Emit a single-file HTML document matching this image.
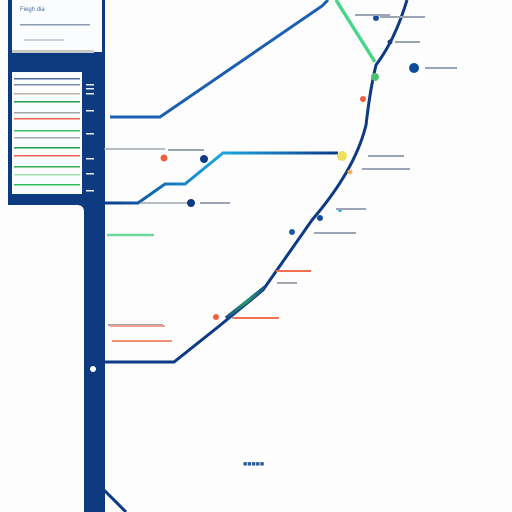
<!DOCTYPE html>
<html><head><meta charset="utf-8"><style>
html,body{margin:0;padding:0;background:#fdfdfe;width:512px;height:512px;overflow:hidden}
svg{display:block;font-family:"Liberation Sans",sans-serif}
</style></head><body>
<svg id="map" width="512" height="512" viewBox="0 0 512 512">
<rect width="512" height="512" fill="#fdfdfe"/>
<!-- left blue frame -->
<path d="M8 0 H105 V512 H84 V212 Q84 205 77 205 H8 Z" fill="#0e3a80"/>
<rect x="0" y="0" width="8" height="54" fill="#fdfdfe"/>
<rect x="0" y="64" width="8" height="12" fill="#fdfdfe"/>
<rect x="12" y="0" width="90" height="52" fill="#fbfcfd"/>
<rect x="12" y="50" width="82" height="3" fill="#c8c8c8"/>
<text x="20" y="11" font-size="6" fill="#4a6fa0">Fiegh dia</text>
<rect x="20" y="24" width="70" height="1.5" fill="#8a9ab0"/>
<rect x="24" y="39" width="40" height="2" fill="#c8d0dc"/>
<rect x="12" y="72" width="70" height="122" fill="#fbfcfd"/>
<g id="legend"></g>
<g id="ticks"></g>
<!-- lines -->
<path d="M110 117 H160 L322 6 L328 0" stroke="#1b5fb0" stroke-width="3" fill="none"/>
<path d="M336 0 L375 62" stroke="#4cd48a" stroke-width="3.5" fill="none"/>
<defs><linearGradient id="cy" x1="0" x2="1"><stop offset="0" stop-color="#0d3a8a"/><stop offset="0.5" stop-color="#1aa8e0"/><stop offset="1" stop-color="#0d3a8a"/></linearGradient>
<linearGradient id="tg" x1="0" y1="1" x2="1" y2="0"><stop offset="0" stop-color="#1a4a8a"/><stop offset="0.5" stop-color="#2a9a6a"/><stop offset="1" stop-color="#1a4a8a"/></linearGradient></defs>
<path d="M104 203 H138 L165 184 H185 L223 153 H338" stroke="url(#cy)" stroke-width="3" fill="none"/>
<path d="M407 0 Q395 40 376 65 Q370 90 366 125 Q355 170 312 220 L263 290 L218 327 L174 362 H104" stroke="#0d3a84" stroke-width="3" fill="none"/>
<path d="M265 287 L226 318" stroke="url(#tg)" stroke-width="3.5" fill="none"/>
<path d="M104 490 L126 512" stroke="#0d3a84" stroke-width="3" fill="none"/>
<path d="M104 149 H165" stroke="#a0a8b0" stroke-width="1.5"/>
<path d="M140 203 H190" stroke="#a0a8b0" stroke-width="1.5"/>
<path d="M107 235 H154" stroke="#6fd8a0" stroke-width="2.5"/>
<g id="stations"></g>
<text x="243" y="466" font-size="7" fill="#2a5a9a" font-weight="bold">■■■■■</text>
</svg>
<script>
const stationX=[375,414,342,363,164,204,191,292,320,350,216,93,376,390,340];
const stationY=[77,68,156,99,158,159,203,232,218,172,317,369,18,42,210];
const stationColor=["#4cc070","#0d4a9a","#f0e060","#f06040","#f06040","#0d3a84","#0d3a84","#1a5a9a","#1a4a9a","#f0b060","#f06040","#ffffff","#1a4a9a","#1a3a7a","#30b0e0"];
const stationR=[4,5,5,3,3.5,4,4,3,3,2.5,3,3,3,2.5,2];
const labelX=[380,425,368,0,168,0,200,0,314,362,232,108,355,395,336];
const labelY=[17,68,156,0,150,0,203,0,233,169,318,325,15,42,209];
const labelW=[45,32,36,0,36,0,30,0,42,48,46,55,35,25,30];
const NS="http://www.w3.org/2000/svg";
const st=document.getElementById('stations');
for(let i=0;i<stationX.length;i++){
 const c=document.createElementNS(NS,'circle');
 c.setAttribute('cx',stationX[i]);c.setAttribute('cy',stationY[i]);c.setAttribute('r',stationR[i]);c.setAttribute('fill',stationColor[i]);
 
 
 st.appendChild(c);
 if(labelW[i]>0){
  const r=document.createElementNS(NS,'rect');
  r.setAttribute('x',labelX[i]);r.setAttribute('y',labelY[i]-1);r.setAttribute('width',labelW[i]);r.setAttribute('height',2);r.setAttribute('fill','#9aa4b4');
  
  
  st.appendChild(r);
 }
}
const extraX=[234,276,277,110,112];
const extraY=[318,271,283,326,341];
const extraW=[45,35,20,55,60];
const extraC=["#f07050","#f07050","#a0a8b4","#f0a090","#f09070"];
for(let i=0;i<extraX.length;i++){
 const r=document.createElementNS(NS,'rect');
 r.setAttribute('x',extraX[i]);r.setAttribute('y',extraY[i]-1);r.setAttribute('width',extraW[i]);r.setAttribute('height',2);r.setAttribute('fill',extraC[i]);
 
 
 st.appendChild(r);
}
const legY=[79,85,94,102,113,119,131,138,148,156,167,175,185];
const legC=["#5070a0","#8090b0","#c0b0a0","#20a050","#a0a8b0","#f06050","#40c060","#a0a8b0","#20a050","#f06050","#30b050","#a0e0b0","#30c060"];
const lg=document.getElementById('legend');
for(let i=0;i<legY.length;i++){
 const r=document.createElementNS(NS,'rect');
 r.setAttribute('x',14);r.setAttribute('y',legY[i]-1);r.setAttribute('width',66);r.setAttribute('height',1.5);r.setAttribute('fill',legC[i]);
 
 
 lg.appendChild(r);
}
const tickY=[84,88,93,110,133,158,173,190];
const tk=document.getElementById('ticks');
for(let i=0;i<tickY.length;i++){
 const r=document.createElementNS(NS,'rect');
 r.setAttribute('x',86);r.setAttribute('y',tickY[i]);r.setAttribute('width',8);r.setAttribute('height',1.5);r.setAttribute('fill','#e8eef8');
 
 
 tk.appendChild(r);
}
</script>
</body></html>
